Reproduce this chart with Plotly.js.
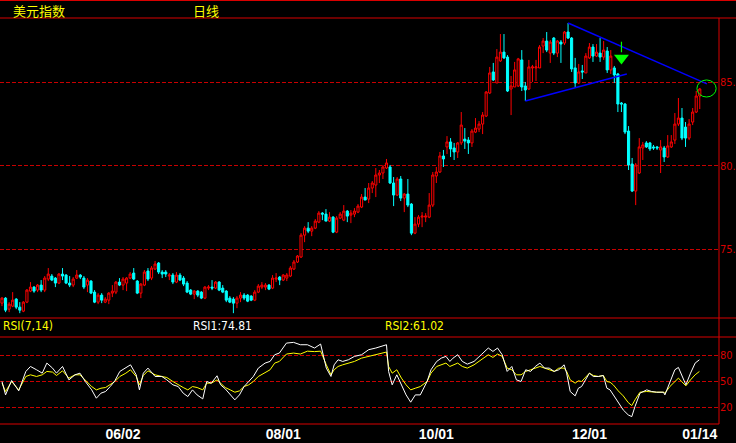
<!DOCTYPE html>
<html><head><meta charset="utf-8">
<script src="https://cdn.plot.ly/plotly-3.0.1.min.js"></script>
<style>html,body{margin:0;padding:0;background:#000;}#chart{width:736px;height:443px;}</style>
</head><body><div id="chart"></div>
<script>
// ---- Daily OHLC of the US dollar index ----
const openP = [
71.78,72.08,71.42,71.60,72.02,71.54,71.30,71.84,72.50,72.74,72.56,72.86,72.56,73.22,73.40,73.28,72.98,73.52,73.46,72.98,
72.86,73.28,73.46,73.28,72.86,73.10,72.44,71.84,72.26,71.84,71.96,72.38,72.44,73.04,
72.86,72.98,73.28,73.58,73.10,72.38,72.86,73.70,73.28,73.82,74.18,73.64,73.64,73.40,73.46,73.04,73.46,73.28,72.98,72.56,
72.32,72.50,72.44,72.08,72.68,72.74,72.68,73.04,72.68,72.50,72.08,72.02,71.78,72.08,72.26,72.26,
72.20,71.96,72.44,72.74,72.74,72.86,72.68,73.22,73.34,73.16,73.28,73.40,73.82,74.24,74.54,75.85,76.27,76.09,76.27,76.63,
77.17,77.11,76.69,76.93,76.03,76.87,76.75,77.29,77.05,77.11,77.23,77.53,78.13,78.01,
78.67,78.85,79.45,79.57,79.87,79.93,78.97,78.25,79.21,78.07,78.31,77.71,75.97,76.51,76.93,76.93,76.93,77.65,79.39,79.63,
80.59,81.13,81.43,81.07,80.83,81.37,81.60,81.54,81.37,82.02,82.20,82.50,82.98,84.36,
85.62,84.96,86.28,86.81,86.51,84.60,84.72,84.78,86.34,84.78,84.60,85.86,85.86,85.86,87.17,87.47,86.75,87.65,86.75,87.41,
87.35,88.01,87.65,85.86,84.96,85.68,85.56,86.46,87.11,86.57,86.75,86.51,86.87,85.74,85.86,85.50,83.76,83.70,82.08,80.11,
78.49,79.57,81.07,81.37,81.37,81.13,81.13,80.95,81.07,80.53,81.13,81.54,82.50,82.86,82.32,81.66,82.62,83.22,84.18];
const highP = [
72.14,72.14,71.84,72.44,72.08,71.84,71.90,72.62,73.04,72.80,72.92,73.16,73.40,73.88,73.52,73.34,73.58,73.88,73.52,73.40,
73.34,73.76,73.52,73.40,73.28,73.16,72.56,72.38,72.38,72.14,72.44,72.86,73.10,73.28,
73.34,73.34,73.64,73.88,73.16,72.98,73.76,73.88,74.00,74.30,74.24,73.76,73.76,73.58,73.58,73.64,73.58,73.40,73.10,72.62,
72.56,72.56,72.50,72.80,72.86,73.16,73.10,73.10,72.86,72.56,72.20,72.14,72.20,72.44,72.38,72.32,
72.26,72.56,72.92,73.04,72.98,72.92,73.46,73.58,73.40,73.52,73.58,74.00,74.36,74.66,75.97,76.39,76.63,76.39,76.81,77.29,
77.23,77.41,77.23,76.99,76.99,77.23,77.65,77.35,77.35,77.47,77.71,78.31,78.67,78.97,
79.09,79.87,79.75,80.05,80.41,80.05,79.33,79.33,79.39,78.37,79.21,77.77,76.93,77.05,77.23,77.17,78.37,79.63,79.93,80.83,
80.95,81.78,81.66,81.37,81.43,83.22,82.26,81.72,82.20,82.86,82.68,83.22,84.48,85.92,
86.16,86.99,87.89,87.89,86.63,85.38,86.22,86.46,86.93,85.02,86.34,86.04,86.34,87.23,87.65,88.01,87.53,87.71,87.53,87.53,
88.07,88.55,87.71,86.46,86.10,86.04,86.75,87.35,87.29,87.29,87.65,87.47,87.11,86.93,85.98,85.56,83.82,83.76,82.38,80.47,
80.17,81.66,81.43,81.48,81.43,81.25,81.19,81.54,81.19,81.84,81.84,83.16,84.06,83.46,82.62,82.80,83.46,84.48,84.66];
const lowP = [
71.60,71.24,71.24,71.54,71.42,71.18,71.24,71.78,72.44,72.40,72.44,72.44,72.44,73.10,73.10,72.74,72.92,73.16,72.92,72.74,
72.74,73.22,73.22,72.62,72.44,72.32,71.78,71.72,71.78,71.78,71.72,72.14,72.32,72.80,
72.56,72.50,73.22,73.16,72.32,72.08,72.80,73.10,73.16,73.76,73.52,73.28,73.34,73.16,72.92,72.98,73.10,72.80,72.38,72.26,
72.02,72.14,72.02,72.02,72.56,72.56,72.62,72.50,72.38,71.84,71.78,71.18,71.48,71.84,71.96,71.84,
71.90,71.90,72.38,72.62,72.56,72.56,72.62,73.04,72.86,73.10,73.10,73.34,73.76,74.18,74.48,75.43,75.97,75.79,76.21,76.57,
76.75,76.69,76.63,75.97,75.97,76.81,76.69,76.63,76.57,76.93,77.17,77.47,77.95,77.77,
78.37,78.13,78.97,79.21,79.81,78.91,77.59,78.19,77.89,77.23,77.53,75.85,75.91,76.33,76.33,76.63,76.87,77.53,78.97,79.57,
79.93,80.71,80.53,80.35,80.47,81.25,81.01,80.71,81.13,81.96,82.02,81.90,82.92,84.30,
85.08,84.96,86.22,86.40,84.42,83.04,84.72,84.72,84.48,83.88,84.54,85.02,85.08,85.86,86.75,86.81,86.16,86.63,86.51,86.16,
87.23,87.59,85.62,84.66,84.90,85.20,85.56,86.40,86.22,86.51,86.22,86.34,85.56,85.50,84.96,83.22,83.22,81.90,79.75,78.43,
77.65,79.51,80.35,81.07,80.89,80.95,80.95,79.57,80.23,80.47,81.07,81.31,82.38,81.54,81.13,81.54,82.44,83.16,83.40];
const closeP = [
72.08,71.36,71.72,71.96,71.54,71.36,71.84,72.56,72.74,72.50,72.86,72.56,73.28,73.52,73.16,72.98,73.52,73.40,72.98,72.86,
73.22,73.46,73.34,72.74,73.16,72.38,71.84,72.26,71.96,72.02,72.38,72.50,73.04,72.86,
73.22,73.28,73.52,73.22,72.38,72.92,73.64,73.22,73.88,74.12,73.64,73.52,73.52,73.46,73.04,73.46,73.16,72.92,72.44,72.32,
72.50,72.26,72.08,72.74,72.74,72.68,73.04,72.56,72.44,71.96,71.84,71.78,72.08,72.26,72.08,71.90,
71.96,72.44,72.80,72.86,72.86,72.62,73.28,73.28,73.16,73.46,73.46,73.88,74.24,74.60,75.85,76.27,76.09,76.27,76.69,77.17,
77.11,76.69,76.93,76.03,76.87,77.11,77.29,76.99,77.17,77.29,77.59,78.13,77.95,78.67,
78.97,79.45,79.57,79.93,80.17,78.97,78.25,79.21,78.07,78.31,77.65,75.97,76.51,76.93,76.99,76.99,77.65,79.45,79.63,80.59,
80.41,81.43,81.01,80.83,81.37,82.44,81.48,81.37,82.08,82.26,82.50,83.04,84.42,85.56,
85.14,86.51,86.81,86.46,84.48,84.78,85.74,86.40,84.72,84.54,85.92,85.92,85.92,87.11,87.47,86.93,87.41,86.75,87.47,87.29,
88.01,87.65,85.80,84.96,85.62,85.62,86.57,87.11,86.57,86.81,86.51,86.93,85.74,86.57,85.44,83.70,83.70,82.02,80.05,78.49,
80.05,81.13,81.25,81.13,81.01,81.07,81.07,81.13,80.53,81.19,81.43,82.50,82.86,81.66,81.66,82.50,83.22,84.18,84.60];

// ---- RSI(7) (white) and RSI(14) (yellow), read at these bar positions ----
const rsiPos = [0,1,2.7,4.7,6.7,8,9.7,11.3,12.6,14.2,15.3,17,18.8,20.5,21.9,23.4,25.2,26.5,27.8,29.1,
30.4,31.7,33.1,34.8,36.1,37.7,38.6,39.7,41,43,44.9,46.3,48,49.5,50.9,52.2,53.5,54.8,56.4,57.5,
58.8,60.4,61.4,62.7,64.1,65.4,66.7,68,69.3,70.6,72,73.9,75.3,76.6,77.9,79.9,81.9,83.8,85.8,87.8,
89.5,91.1,92.4,93.3,94.4,95.7,97.3,99,101,103,105,107,108,108.6,109.6,110.9,112.2,113.5,114.8,116.1,
117.5,119.4,120.5,122.1,123.4,124.7,125.8,126.7,128,129.3,130.7,132.6,134.6,136.6,137.9,139.2,140.5,141.9,143.2,144.5,
145.8,147.1,148.5,149.8,151.1,152.4,153.7,155.1,156.4,157.9,158.6,159.6,161,161.9,162.8,163.8,165,166.1,167.5,168.9,
169.9,170.8,171.7,173.1,174.5,175.9,176.9,177.8,179.2,181.1,182.5,183.9,185.8,186.2,187.6,189,190,190.9,192.1,193.4,
194.7,195.9];
const rsi1 = [49.6,34.2,50.8,38.8,61.2,66.9,63.1,59.2,70.8,65.0,59.2,66.9,51.5,57.3,59.2,49.6,40.0,30.4,36.2,38.1,
43.8,50.4,61.2,65.0,68.8,57.3,40.0,59.2,65.0,55.4,55.4,51.5,45.8,43.8,36.2,32.3,40.0,34.2,29.6,49.6,
47.7,56.2,45.8,41.2,34.2,28.5,34.2,43.8,49.6,55.4,65.0,70.8,72.7,80.4,82.3,93.8,94.6,91.9,91.9,88.1,
92.7,65.0,55.4,68.8,74.6,72.7,74.6,78.5,80.4,86.2,88.1,91.2,91.9,61.2,45.8,57.3,45.8,34.2,25.8,34.2,
34.2,49.6,63.1,72.7,76.5,78.5,72.7,76.5,80.4,72.7,69.6,72.7,80.4,88.1,84.2,88.1,80.4,61.2,66.9,51.5,
49.6,63.1,61.2,66.9,70.8,65.0,65.0,61.2,63.1,68.8,59.2,38.1,33.1,41.9,43.8,51.5,59.2,55.4,55.4,56.5,
41.9,40.0,34.2,24.6,16.9,11.2,9.2,20.8,36.2,40.0,38.1,37.3,37.3,34.2,47.7,63.1,65.8,57.3,45.8,59.2,
70.8,74.6];
const rsi2 = [47.7,38.1,49.6,40.0,55.4,57.3,55.4,57.3,61.2,60.4,56.5,61.9,53.5,57.3,57.3,51.5,43.8,40.0,41.9,42.7,
45.8,49.6,55.4,59.2,63.1,55.4,45.8,56.5,61.9,57.3,55.4,54.2,49.6,45.8,42.7,40.0,43.8,42.7,40.0,47.7,
47.7,51.5,47.7,42.7,40.0,37.3,38.8,43.8,45.8,49.6,55.4,60.4,63.1,70.8,72.7,81.2,82.3,81.2,84.5,84.0,
84.5,68.8,57.3,63.1,66.9,68.8,70.8,72.7,76.5,78.5,80.4,82.3,83.5,66.9,59.2,63.1,53.5,45.8,40.0,41.9,
43.8,49.6,59.2,66.9,68.8,70.8,66.9,68.8,70.8,66.9,65.0,68.8,74.6,80.4,77.3,81.2,78.5,65.0,63.1,57.3,
57.3,61.2,63.1,65.0,66.9,65.0,63.1,61.2,65.0,65.0,61.2,51.5,47.7,50.4,49.6,53.5,59.2,56.5,55.4,56.5,
49.6,48.8,45.8,38.8,33.1,25.4,21.9,28.5,37.3,38.1,37.3,37.3,37.3,36.2,43.8,49.6,53.5,49.6,44.6,51.5,
57.3,61.2];

// ---- axis labels ----
const dateTickPos = [34, 79, 122, 165, 196];
const dateTickText = ['06/02', '08/01', '10/01', '12/01', '01/14'];
const priceTicks = [75, 80, 85];
const priceTickText = ['75.', '80.', '85.'];
const rsiTicks = [20, 50, 80];
const rsiTickText = ['20', '50', '80'];

// ---- drawn trend lines / marks (bar index, price) ----
const upperTrendIdx = [159, 198];
const upperTrendPrice = [88.55, 84.90];
const lowerTrendIdx = [147, 175.5];
const lowerTrendPrice = [83.88, 85.50];
const signalIdx = [174];
const signalPrice = [86.45];
const signalStemPrice = [87.43, 86.80];
const circleIdx = [195.2, 200.6];
const circlePrice = [84.12, 85.14];

const barIdx = openP.map((_, i) => i);
const W = 736, H = 443;
const px = p => p / W;
const py = p => 1 - p / H;
const RED = '#d80000';
const GRID = '#c80000';

const traces = [
  {type: 'candlestick', x: barIdx, open: openP, high: highP, low: lowP, close: closeP,
   xaxis: 'x', yaxis: 'y', whiskerwidth: 0, hoverinfo: 'skip',
   increasing: {line: {color: '#ff0000', width: 1}, fillcolor: '#000000'},
   decreasing: {line: {color: '#00ffff', width: 1}, fillcolor: '#00ffff'}},
  {type: 'scatter', mode: 'lines', x: upperTrendIdx, y: upperTrendPrice, xaxis: 'x', yaxis: 'y',
   line: {color: '#0000ff', width: 1.4}, hoverinfo: 'skip'},
  {type: 'scatter', mode: 'lines', x: lowerTrendIdx, y: lowerTrendPrice, xaxis: 'x', yaxis: 'y',
   line: {color: '#0000ff', width: 1.4}, hoverinfo: 'skip'},
  {type: 'scatter', mode: 'lines', x: [signalIdx[0], signalIdx[0]], y: signalStemPrice, xaxis: 'x', yaxis: 'y',
   line: {color: '#00ff00', width: 1.2}, hoverinfo: 'skip'},
  {type: 'scatter', mode: 'markers', x: signalIdx, y: signalPrice, xaxis: 'x', yaxis: 'y',
   marker: {symbol: 'triangle-down', size: 13, color: '#00ff00', line: {width: 0}}, hoverinfo: 'skip'},
  {type: 'scatter', mode: 'lines', x: rsiPos, y: rsi2, xaxis: 'x2', yaxis: 'y2',
   line: {color: '#ffff00', width: 1}, hoverinfo: 'skip'},
  {type: 'scatter', mode: 'lines', x: rsiPos, y: rsi1, xaxis: 'x2', yaxis: 'y2',
   line: {color: '#ffffff', width: 1}, hoverinfo: 'skip'}
];

const xr = [-0.56, 201.4];
const narrow = 'Liberation Sans Narrow, DejaVu Sans Condensed, Arial Narrow, sans-serif';

const hline = (y, x0, x1) => ({type: 'line', xref: 'paper', yref: 'paper', x0: px(x0), x1: px(x1),
  y0: py(y), y1: py(y), line: {color: RED, width: 1}});

const layout = {
  width: W, height: H,
  margin: {l: 0, r: 0, t: 0, b: 0, pad: 0},
  paper_bgcolor: '#000000', plot_bgcolor: '#000000',
  showlegend: false, hovermode: false, dragmode: false,
  boxgap: 0.15,
  xaxis: {domain: [0, px(719)], range: xr, anchor: 'y', showgrid: false, zeroline: false,
    showticklabels: false, ticks: '', showline: false, rangeslider: {visible: false}, fixedrange: true},
  yaxis: {domain: [py(318), py(18)], range: [70.89, 88.85], anchor: 'x', side: 'right',
    tickvals: priceTicks, ticktext: priceTickText, ticks: '', showline: false, zeroline: false,
    ticklabelstandoff: 0,
    tickfont: {family: narrow, size: 11, color: '#d80000'},
    showgrid: true, gridcolor: GRID, gridwidth: 1, griddash: '4px,2px', fixedrange: true},
  xaxis2: {domain: [0, px(719)], range: xr, anchor: 'y2', showgrid: false, zeroline: false,
    tickvals: dateTickPos, ticktext: dateTickText, ticks: '', showline: false,
    tickfont: {family: 'Liberation Sans, Arial, sans-serif', size: 14, color: '#ffffff', weight: 'bold'},
    fixedrange: true},
  yaxis2: {domain: [py(424), py(337)], range: [0.73, 100.8], anchor: 'x2', side: 'right',
    tickvals: rsiTicks, ticktext: rsiTickText, ticks: '', showline: false, zeroline: false,
    ticklabelstandoff: 0,
    tickfont: {family: narrow, size: 11, color: '#d80000'},
    showgrid: true, gridcolor: GRID, gridwidth: 1, griddash: '4px,2px', fixedrange: true},
  shapes: [
    hline(0.5, 0, 736), hline(18, 0, 736), hline(318, 0, 736), hline(337, 0, 736), hline(424, 0, 719),
    {type: 'line', xref: 'paper', yref: 'paper', x0: px(719), x1: px(719), y0: py(18), y1: py(424),
     line: {color: RED, width: 1}},
    {type: 'circle', xref: 'x', yref: 'y', x0: circleIdx[0], x1: circleIdx[1], y0: circlePrice[0], y1: circlePrice[1],
     line: {color: '#00ff00', width: 1}}
  ],
  annotations: [
    {text: '美元指数', xref: 'paper', yref: 'paper', x: px(12), y: py(0), xanchor: 'left', yanchor: 'top',
     borderpad: 0, showarrow: false, font: {family: 'Noto Sans CJK SC', size: 13, color: '#ffff00'}},
    {text: '日线', xref: 'paper', yref: 'paper', x: px(192), y: py(0), xanchor: 'left', yanchor: 'top',
     borderpad: 0, showarrow: false, font: {family: 'Noto Sans CJK SC', size: 13, color: '#ffff00'}},
    {text: 'RSI(7,14)', xref: 'paper', yref: 'paper', x: px(1), y: py(326), xanchor: 'left', yanchor: 'middle',
     showarrow: false, font: {family: narrow, size: 12, color: '#ffff00'}},
    {text: 'RSI1:74.81', xref: 'paper', yref: 'paper', x: px(191), y: py(326), xanchor: 'left', yanchor: 'middle',
     showarrow: false, font: {family: narrow, size: 12, color: '#ffffff'}},
    {text: 'RSI2:61.02', xref: 'paper', yref: 'paper', x: px(383), y: py(326), xanchor: 'left', yanchor: 'middle',
     showarrow: false, font: {family: narrow, size: 12, color: '#ffff00'}}
  ]
};

Plotly.newPlot('chart', traces, layout, {staticPlot: true, displayModeBar: false});
</script></body></html>
